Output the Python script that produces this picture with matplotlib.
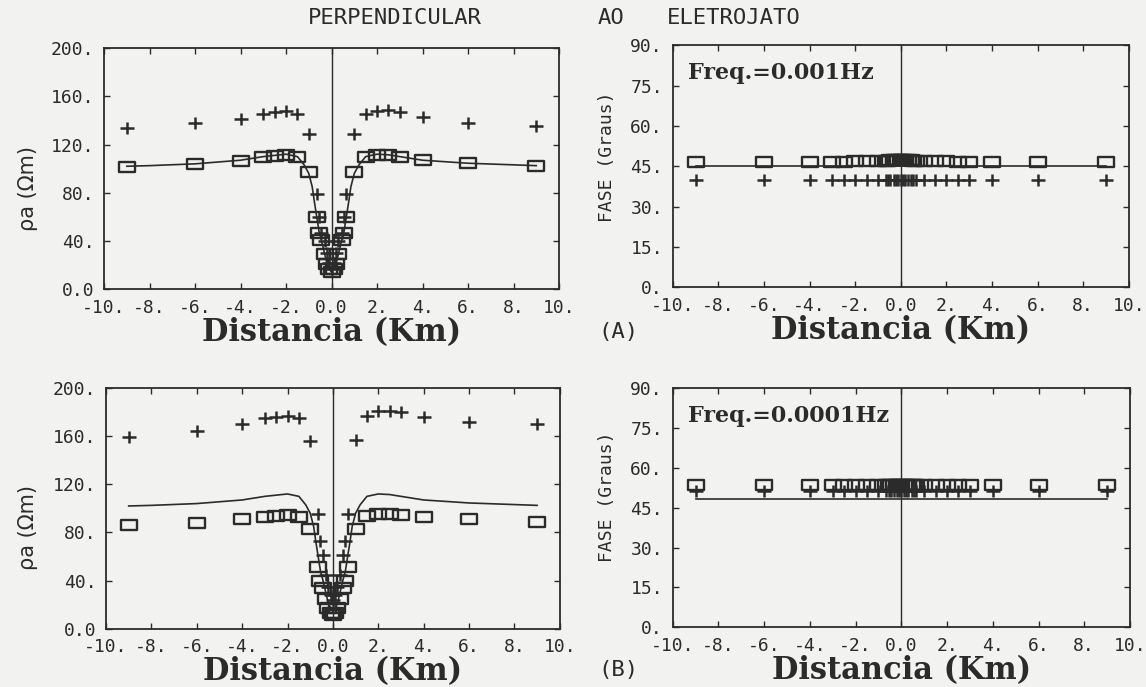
import matplotlib
matplotlib.use("Agg")
import matplotlib.pyplot as plt
from matplotlib.path import Path

# station positions along the profile (km)
distancia = [-9.0, -6.0, -4.0, -3.0, -2.5, -2.0, -1.5, -1.0, -0.65, -0.55, -0.45, -0.3, -0.2, -0.1, 0.0,
             0.1, 0.2, 0.3, 0.45, 0.55, 0.65, 1.0, 1.5, 2.0, 2.5, 3.0, 4.0, 6.0, 9.0]

# apparent resistivity, f = 0.001 Hz
rho_quad_a = [101.5, 103.5, 106.5, 109.5, 110.5, 111.5, 109.5, 97, 60, 47, 41, 29, 21, 17, 14,
              17, 21, 29, 41, 47, 60, 97, 110, 111.5, 111, 110, 107, 104.5, 102.5]
rho_cruz_a = [134, 137.5, 141.5, 145.5, 147, 148, 145, 129, 79, 60, 47, 40, 30, 22, 17,
              22, 30, 40, 47, 60, 79, 129, 145, 148, 149, 147, 143, 138, 135.5]

# apparent resistivity, f = 0.0001 Hz
rho_quad_b = [86, 88, 91, 93, 94, 94.5, 93, 83, 51, 40, 34, 25, 17, 13, 11,
              13, 17, 25, 34, 40, 51, 83, 94, 95, 95, 94.5, 93, 91, 89]
rho_cruz_b = [159, 164, 170, 175, 176, 177, 175, 156, 95, 73, 61, 45, 35, 28, 24,
              28, 35, 45, 61, 73, 95, 157, 177, 181, 181, 180, 176, 172, 170.5]

# continuous curve drawn in both resistivity panels
dist_curva = [-9, -8, -6, -4, -3, -2.5, -2, -1.5, -1.2, -1.0, -0.85, -0.75, -0.65, -0.55, -0.45,
              -0.3, -0.2, -0.1, 0, 0.1, 0.2, 0.3, 0.45, 0.55, 0.65, 0.75, 0.85, 1.0, 1.2, 1.5,
              2, 2.5, 3, 4, 6, 9]
rho_curva = [102, 102.5, 104, 107, 110, 111, 112, 110, 103, 96, 85, 72, 60, 48, 41,
             29, 21, 17, 14, 17, 21, 29, 41, 48, 60, 72, 85, 96, 103, 110,
             112, 111.5, 110, 107, 104.5, 102.5]

# phase (degrees)
fase_quad_a = [46.7, 46.7, 46.7, 46.7, 46.7, 46.8, 46.8, 46.9, 47.0, 47.1, 47.2, 47.3, 47.3, 47.3, 47.3,
               47.3, 47.3, 47.3, 47.2, 47.1, 47.0, 46.9, 46.8, 46.8, 46.7, 46.7, 46.7, 46.7, 46.7]
fase_cruz_a = [40.0, 40.0, 40.0, 40.0, 40.0, 40.0, 40.0, 40.0, 40.0, 40.0, 40.0, 40.0, 40.0, 40.0, 40.0,
               40.0, 40.0, 40.0, 40.0, 40.0, 40.0, 40.0, 40.0, 40.0, 40.0, 40.0, 40.0, 40.0, 40.0]
fase_quad_b = [53.7, 53.7, 53.7, 53.7, 53.7, 53.7, 53.7, 53.7, 53.7, 53.7, 53.7, 53.7, 53.7, 53.7, 53.7,
               53.7, 53.7, 53.7, 53.7, 53.7, 53.7, 53.7, 53.7, 53.7, 53.7, 53.7, 53.7, 53.7, 53.7]
fase_cruz_b = [51.3, 51.3, 51.3, 51.3, 51.3, 51.3, 51.3, 51.3, 51.3, 51.3, 51.3, 51.3, 51.3, 51.3, 51.3,
               51.3, 51.3, 51.3, 51.3, 51.3, 51.3, 51.3, 51.3, 51.3, 51.3, 51.3, 51.3, 51.3, 51.3]
dist_fase = [-9, 9]
fase_curva_a = [45, 45]
fase_curva_b = [48.3, 48.3]

x_ticks = [-10, -8, -6, -4, -2, 0, 2, 4, 6, 8, 10]
x_labels = ["-10.", "-8.", "-6.", "-4.", "-2.", "0.0", "2.", "4.", "6.", "8.", "10."]
rho_ticks = [0, 40, 80, 120, 160, 200]
rho_labels = ["0.0", "40.", "80.", "120.", "160.", "200."]
fase_ticks = [0, 15, 30, 45, 60, 75, 90]
fase_labels = ["0.", "15.", "30.", "45.", "60.", "75.", "90."]

INK = "#2b2b2b"
PAPER = "#f2f2f0"
MONO = "DejaVu Sans Mono"

box = Path([(-1, -0.6), (1, -0.6), (1, 0.6), (-1, 0.6), (-1, -0.6)],
           [Path.MOVETO, Path.LINETO, Path.LINETO, Path.LINETO, Path.CLOSEPOLY])
cross = Path([(-1, 0), (1, 0), (0, -0.8), (0, 0.8)],
             [Path.MOVETO, Path.LINETO, Path.MOVETO, Path.LINETO])


def style_axes(ax, ymax, yticks, ylabels):
    ax.set_facecolor(PAPER)
    ax.set_xlim(-10, 10)
    ax.set_ylim(0, ymax)
    ax.set_xticks(x_ticks)
    ax.set_xticklabels(x_labels, family=MONO)
    ax.set_yticks(yticks)
    ax.set_yticklabels(ylabels, family=MONO)
    ax.tick_params(direction="in", length=4, width=1, top=True, right=True,
                   labelsize=13, pad=7, colors=INK)
    for sp in ax.spines.values():
        sp.set_linewidth(1.3)
        sp.set_color(INK)
    ax.axvline(0, color=INK, lw=1)
    ax.set_xlabel("Distancia (Km)", family="DejaVu Serif", weight="bold",
                  fontsize=22, color=INK, labelpad=0)


def draw_points(ax, x, quad, cruz):
    ax.plot(x, quad, linestyle="none", marker=box, markersize=11,
            markerfacecolor="none", markeredgecolor=INK, markeredgewidth=1.7)
    ax.plot(x, cruz, linestyle="none", marker=cross, markersize=10.5,
            markeredgecolor=INK, markeredgewidth=1.8)


fig = plt.figure(figsize=(11.46, 6.87), dpi=100, facecolor=PAPER)
ax_a = fig.add_axes([0.0908, 0.579, 0.397, 0.351])
ax_b = fig.add_axes([0.587, 0.582, 0.398, 0.352])
ax_c = fig.add_axes([0.0925, 0.085, 0.396, 0.350])
ax_d = fig.add_axes([0.587, 0.087, 0.399, 0.348])

for ax in (ax_a, ax_c):
    style_axes(ax, 200, rho_ticks, rho_labels)
    ax.plot(dist_curva, rho_curva, color=INK, lw=1.2)
for ax in (ax_b, ax_d):
    style_axes(ax, 90, fase_ticks, fase_labels)

draw_points(ax_a, distancia, rho_quad_a, rho_cruz_a)
draw_points(ax_c, distancia, rho_quad_b, rho_cruz_b)

ax_b.plot(dist_fase, fase_curva_a, color=INK, lw=1.2)
draw_points(ax_b, distancia, fase_quad_a, fase_cruz_a)
ax_d.plot(dist_fase, fase_curva_b, color=INK, lw=1.2)
draw_points(ax_d, distancia, fase_quad_b, fase_cruz_b)

ax_b.text(0.033, 0.884, "Freq.=0.001Hz", transform=ax_b.transAxes, va="center",
          family="DejaVu Serif", weight="bold", fontsize=16, color=INK)
ax_d.text(0.033, 0.884, "Freq.=0.0001Hz", transform=ax_d.transAxes, va="center",
          family="DejaVu Serif", weight="bold", fontsize=16, color=INK)

# y axis titles
for y in (188, 528):
    fig.text(28 / 1146, 1 - y / 687, "ρa (Ωm)", rotation=90, ha="center", va="center",
             fontsize=15, color=INK)
for y in (157, 497):
    fig.text(607 / 1146, 1 - y / 687, "FASE (Graus)", rotation=90, ha="center", va="center",
             family=MONO, fontsize=13, color=INK)

fig.text(598 / 1146, 1 - 332 / 687, "(A)", va="center", family=MONO, fontsize=16, color=INK)
fig.text(598 / 1146, 1 - 670 / 687, "(B)", va="center", family=MONO, fontsize=16, color=INK)

# title across the top
for x, word in ((395, "PERPENDICULAR"), (611, "AO"), (734, "ELETROJATO")):
    fig.text(x / 1146, 1 - 18 / 687, word, ha="center", va="center",
             family=MONO, fontsize=16, color=INK)

fig.savefig("out.png", dpi=100, facecolor=PAPER)
